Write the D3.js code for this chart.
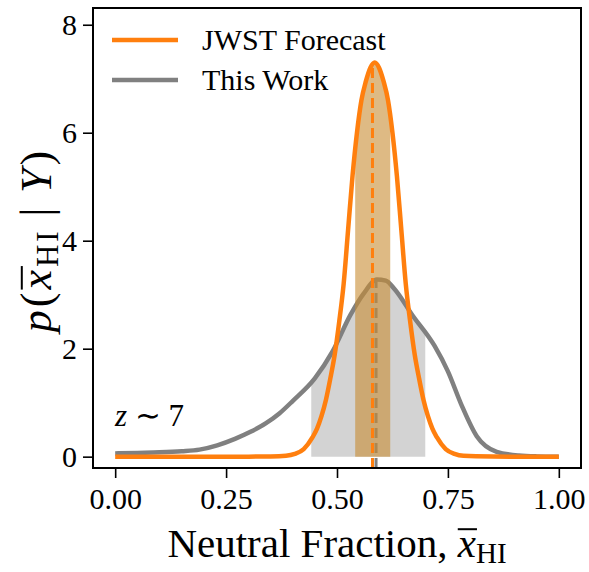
<!DOCTYPE html>
<html>
<head>
<meta charset="utf-8">
<script src="https://cdn.jsdelivr.net/npm/d3@7"></script>
<style>
  body { margin: 0; background: #fff; }
</style>
</head>
<body>
<svg width="589" height="572"></svg>
<script>
// values
const xTicks = [0, 0.25, 0.5, 0.75, 1.0];
const yTicks = [0, 2, 4, 6, 8];

const jwstX = [0, 0.1, 0.2, 0.3, 0.35, 0.385, 0.405, 0.425, 0.445, 0.455, 0.465, 0.475, 0.485, 0.495,
  0.505, 0.515, 0.525, 0.535, 0.545, 0.555, 0.565, 0.575, 0.585, 0.595, 0.605, 0.615, 0.625, 0.635,
  0.645, 0.655, 0.665, 0.675, 0.685, 0.695, 0.705, 0.715, 0.725, 0.745, 0.765, 0.785, 0.85, 0.9, 1.0];
const jwstY = [0, 0, 0, 0, 0.003, 0.015, 0.05, 0.14, 0.36, 0.52, 0.75, 1.05, 1.45, 1.9,
  2.5, 3.2, 4.2, 5.2, 6.0, 6.6, 6.95, 7.2, 7.3, 7.2, 6.95, 6.6, 6.0, 5.2,
  4.2, 3.2, 2.5, 1.9, 1.45, 1.05, 0.75, 0.52, 0.36, 0.14, 0.05, 0.015, 0.002, 0, 0];

const workX = [0, 0.05, 0.1, 0.15, 0.19, 0.23, 0.27, 0.305, 0.34, 0.37, 0.4, 0.45, 0.49, 0.53,
  0.56, 0.59, 0.61, 0.63, 0.67, 0.72, 0.75, 0.78, 0.815, 0.86, 0.91, 0.95, 1.0];
const workY = [0.06, 0.07, 0.08, 0.1, 0.13, 0.21, 0.33, 0.46, 0.62, 0.8, 1.03, 1.45, 1.95, 2.62,
  3.02, 3.28, 3.26, 3.1, 2.62, 2.05, 1.58, 0.97, 0.38, 0.09, 0.02, 0.005, 0];

const jwstMedian = 0.58;
const workMedian = 0.588;
const jwstBand = [0.541, 0.62];
const workBand = [0.442, 0.699];

const serif = '"Liberation Serif", "Times New Roman", serif';

const svg = d3.select("svg");
const width = +svg.attr("width");
const height = +svg.attr("height");
const margin = { top: 8, left: 93, right: 8, bottom: 104 };
const w = width - margin.left - margin.right;
const h = height - margin.top - margin.bottom;

const xScale = d3.scaleLinear().domain([-0.05, 1.05]).range([0, w]);
const yScale = d3.scaleLinear().domain([-0.21, 8.31]).range([h, 0]);

const g = svg.append("g").attr("transform", `translate(${margin.left},${margin.top})`);

const jwst = jwstX.map((x, i) => ({ x, y: jwstY[i] }));
const work = workX.map((x, i) => ({ x, y: workY[i] }));

const valueAt = (data, x) => {
  const i = d3.bisector(d => d.x).right(data, x);
  const a = data[i - 1], b = data[i];
  return a.y + (b.y - a.y) * (x - a.x) / (b.x - a.x);
};

const line = d3.line().x(d => xScale(d.x)).y(d => yScale(d.y)).curve(d3.curveMonotoneX);
const area = d3.area().x(d => xScale(d.x)).y0(yScale(0)).y1(d => yScale(d.y)).curve(d3.curveMonotoneX);

const defs = svg.append("defs");
const addClip = (id, band) => defs.append("clipPath").attr("id", id)
  .append("rect")
  .attr("x", xScale(band[0])).attr("width", xScale(band[1]) - xScale(band[0]))
  .attr("y", 0).attr("height", h);
addClip("clip-work", workBand);
addClip("clip-jwst", jwstBand);

// this work
g.append("path").datum(work).attr("d", area)
  .attr("fill", "#d3d3d3").attr("clip-path", "url(#clip-work)");
g.append("path").datum(work).attr("d", line)
  .attr("fill", "none").attr("stroke", "#808080").attr("stroke-width", 4.5);
g.append("line")
  .attr("x1", xScale(workMedian)).attr("x2", xScale(workMedian))
  .attr("y1", h).attr("y2", yScale(valueAt(work, workMedian)))
  .attr("stroke", "#808080").attr("stroke-width", 3).attr("stroke-dasharray", "10,5");

// jwst forecast
g.append("path").datum(jwst).attr("d", area)
  .attr("fill", "rgb(200,140,50)").attr("fill-opacity", 0.6).attr("clip-path", "url(#clip-jwst)");
g.append("path").datum(jwst).attr("d", line)
  .attr("fill", "none").attr("stroke", "#ff7f0e").attr("stroke-width", 4.5);
g.append("line")
  .attr("x1", xScale(jwstMedian)).attr("x2", xScale(jwstMedian))
  .attr("y1", h).attr("y2", yScale(valueAt(jwst, jwstMedian)))
  .attr("stroke", "#ff7f0e").attr("stroke-width", 3).attr("stroke-dasharray", "10,5");

// axes
const xAxis = g.append("g").attr("transform", `translate(0,${h})`)
  .call(d3.axisBottom(xScale).tickValues(xTicks).tickFormat(d3.format(".2f")).tickSize(10).tickPadding(10));
const yAxis = g.append("g")
  .call(d3.axisLeft(yScale).tickValues(yTicks).tickFormat(d3.format("d")).tickSize(10).tickPadding(6));
[xAxis, yAxis].forEach(a => {
  a.select(".domain").remove();
  a.selectAll("line").attr("stroke", "#000").attr("stroke-width", 1.6);
  a.selectAll("text").attr("font-size", 30).attr("fill", "#000").style("font-family", serif);
});
g.append("rect").attr("width", w).attr("height", h)
  .attr("fill", "none").attr("stroke", "#000").attr("stroke-width", 2);

// legend
const legend = g.append("g").attr("transform", "translate(19,32)");
[["JWST Forecast", "#ff7f0e"], ["This Work", "#808080"]].forEach(([name, color], i) => {
  legend.append("line").attr("x1", 0).attr("x2", 66).attr("y1", i * 40).attr("y2", i * 40)
    .attr("stroke", color).attr("stroke-width", 4.5);
  legend.append("text").attr("x", 90).attr("y", i * 40 + 10)
    .attr("font-size", 30).style("font-family", serif).text(name);
});

// redshift note
const note = g.append("text").attr("x", 22).attr("y", 418)
  .attr("font-size", 31).style("font-family", serif);
note.append("tspan").attr("font-style", "italic").text("z");
note.append("tspan").text(" \u223C 7");

// overline over a measured italic x
const overline = (textSel, tspan, dx, lift) => {
  const b = tspan.node().getBBox();
  textSel.node().parentNode.appendChild(
    d3.create("svg:line")
      .attr("x1", b.x + dx).attr("x2", b.x + b.width + dx)
      .attr("y1", b.y + b.height * lift).attr("y2", b.y + b.height * lift)
      .attr("stroke", "#000").attr("stroke-width", 2)
      .attr("transform", textSel.attr("transform"))
      .node());
};

// axis labels
const xl = svg.append("text").attr("x", margin.left + w / 2).attr("y", 557)
  .attr("text-anchor", "middle").attr("font-size", 41).style("font-family", serif);
xl.append("tspan").text("Neutral Fraction, ");
const xlx = xl.append("tspan").attr("font-style", "italic").text("x");
xl.append("tspan").attr("font-size", 29).attr("dy", 6).text("HI");
overline(xl, xlx, 1, 0.2);

const yl = svg.append("text")
  .attr("transform", `translate(51,${margin.top + h / 2 + 2}) rotate(-90)`)
  .attr("text-anchor", "middle").attr("font-size", 44)
  .attr("letter-spacing", 3).style("font-family", serif);
yl.append("tspan").attr("font-style", "italic").text("p");
yl.append("tspan").text("(");
const ylx = yl.append("tspan").attr("font-style", "italic").text("x");
yl.append("tspan").attr("font-size", 31).attr("dy", 7).text("HI");
yl.append("tspan").attr("dy", -7).text("\u2009|\u2009");
yl.append("tspan").attr("font-style", "italic").text("Y");
yl.append("tspan").text(")");
overline(yl, ylx, 1, 0.2);
</script>
</body>
</html>
